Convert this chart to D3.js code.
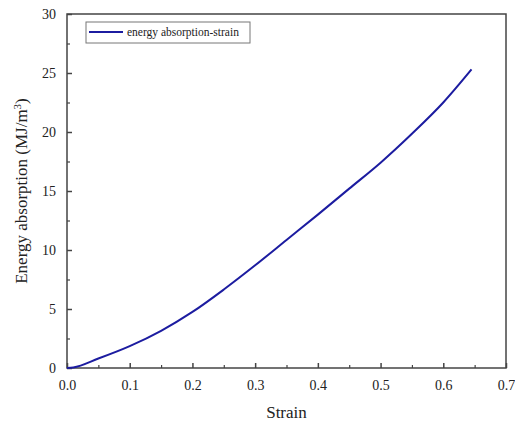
<!DOCTYPE html>
<html>
<head>
<meta charset="utf-8">
<script src="https://cdn.jsdelivr.net/npm/d3@7"></script>
<style>
  body { margin: 0; background: #fff; }
  text { font-family: "Liberation Serif", "Times New Roman", serif; fill: #222; }
</style>
</head>
<body>
<svg id="chart" width="515" height="426"></svg>
<script>
// values
const strain = [0, 0.01, 0.05, 0.1, 0.15, 0.2, 0.25, 0.3, 0.35, 0.4, 0.45, 0.5, 0.55, 0.6, 0.645];
const energy = [0, 0.05, 0.8, 1.85, 3.15, 4.75, 6.65, 8.7, 10.85, 13.0, 15.2, 17.4, 19.85, 22.5, 25.3];
const xTicks = [0, 0.1, 0.2, 0.3, 0.4, 0.5, 0.6, 0.7];
const yTicks = [0, 5, 10, 15, 20, 25, 30];
const seriesName = 'energy absorption-strain';

const margin = { top: 14, right: 9, bottom: 58, left: 67 };
const width = 515, height = 426;
const svg = d3.select('#chart');

const x = d3.scaleLinear().domain([0, 0.7]).range([margin.left, width - margin.right]);
const y = d3.scaleLinear().domain([0, 30]).range([height - margin.bottom, margin.top]);

const axisColor = '#444';

// frame
svg.append('rect')
    .attr('x', x(0)).attr('y', y(30))
    .attr('width', x(0.7) - x(0)).attr('height', y(0) - y(30))
    .attr('fill', 'none').attr('stroke', axisColor).attr('stroke-width', 1.5);

// x axis with inward ticks
const xAxis = svg.append('g').attr('transform', `translate(0,${y(0)})`)
    .call(d3.axisBottom(x).tickValues(xTicks).tickFormat(d3.format('.1f')).tickSizeInner(-5).tickSizeOuter(0).tickPadding(12));
xAxis.select('.domain').remove();
xAxis.selectAll('line').attr('stroke', axisColor).attr('stroke-width', 1.5);
xAxis.selectAll('text').style('font-size', '14px').attr('fill', '#222');

svg.append('g').attr('transform', `translate(0,${y(0)})`)
    .call(d3.axisBottom(x).tickValues(d3.range(0.05, 0.7, 0.1)).tickFormat('').tickSizeInner(-3).tickSizeOuter(0))
    .call(g => g.select('.domain').remove())
    .selectAll('line').attr('stroke', axisColor).attr('stroke-width', 1.2);

// y axis
const yAxis = svg.append('g').attr('transform', `translate(${x(0)},0)`)
    .call(d3.axisLeft(y).tickValues(yTicks).tickSizeInner(-5).tickSizeOuter(0).tickPadding(11));
yAxis.select('.domain').remove();
yAxis.selectAll('line').attr('stroke', axisColor).attr('stroke-width', 1.5);
yAxis.selectAll('text').style('font-size', '14px').attr('fill', '#222');

svg.append('g').attr('transform', `translate(${x(0)},0)`)
    .call(d3.axisLeft(y).tickValues(d3.range(2.5, 30, 5)).tickFormat('').tickSizeInner(-3).tickSizeOuter(0))
    .call(g => g.select('.domain').remove())
    .selectAll('line').attr('stroke', axisColor).attr('stroke-width', 1.2);

// curve
const pts = strain.map((s, i) => [s, energy[i]]);
svg.append('path')
    .datum(pts)
    .attr('fill', 'none')
    .attr('stroke', '#1c1ca0')
    .attr('stroke-width', 2)
    .attr('d', d3.line().x(d => x(d[0])).y(d => y(d[1])).curve(d3.curveMonotoneX));

// legend
const lg = svg.append('g');
lg.append('rect').attr('x', 86).attr('y', 22).attr('width', 164).attr('height', 21)
    .attr('fill', '#fff').attr('stroke', '#777').attr('stroke-width', 1);
lg.append('line').attr('x1', 89).attr('x2', 123).attr('y1', 32).attr('y2', 32)
    .attr('stroke', '#1c1ca0').attr('stroke-width', 2);
lg.append('text').attr('x', 127).attr('y', 36).style('font-size', '11.5px').text(seriesName);

// axis titles
svg.append('text').attr('x', (x(0) + x(0.7)) / 2).attr('y', 418)
    .attr('text-anchor', 'middle').style('font-size', '17px').text('Strain');

const yt = svg.append('text')
    .attr('transform', `translate(27,${(y(0) + y(30)) / 2}) rotate(-90)`)
    .attr('text-anchor', 'middle').style('font-size', '17px');
yt.append('tspan').text('Energy absorption (MJ/m');
yt.append('tspan').attr('baseline-shift', 'super').style('font-size', '11px').text('3');
yt.append('tspan').text(')');
</script>
</body>
</html>
